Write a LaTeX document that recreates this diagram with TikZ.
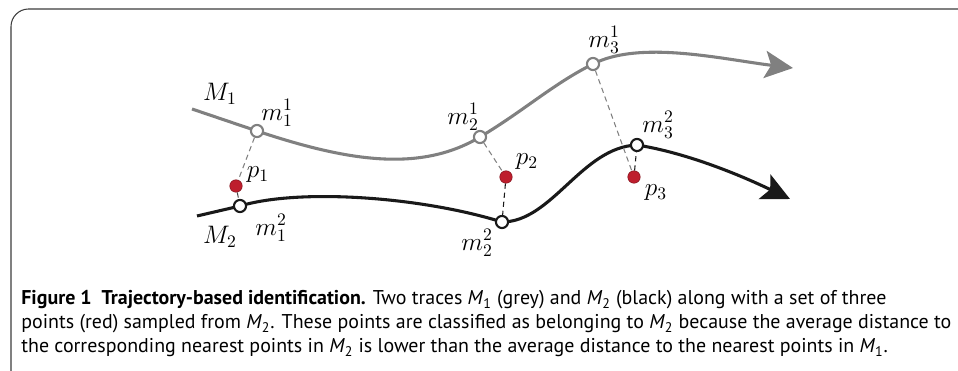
\documentclass[tikz,border=0pt]{standalone}
\usepackage{fontspec}
\usepackage{amsmath}
\usetikzlibrary{arrows.meta,backgrounds}
\newfontfamily\fuenteleyenda{PT Sans}
\definecolor{GrisTraza}{RGB}{128,128,128}
\definecolor{NegroTraza}{RGB}{25,25,25}
\definecolor{RojoPunto}{RGB}{190,30,45}
\definecolor{GrisMarco}{RGB}{60,60,60}

\tikzset{
  traza/.style={line width=1.75pt},
  muestra/.style={circle,draw,line width=1.2pt,fill=white,inner sep=0pt,minimum size=6.9pt},
  punto/.style={circle,fill=RojoPunto,draw=RojoPunto!70!black,line width=0.3pt,inner sep=0pt,minimum size=7.1pt},
  enlace/.style={dash pattern=on 3pt off 2.2pt,line width=0.6pt},
  etiqueta/.style={inner sep=0pt,font=\fontsize{14.4}{16}\selectfont},
  linea/.style={anchor=base west,inner sep=0pt,font=\fuenteleyenda\fontsize{11.35}{13.6}\selectfont},
  punta/.style={-{Stealth[length=16pt,width=15.5pt,inset=3.5pt]}}
}

\begin{document}
\begin{tikzpicture}[x=0.02cm,y=-0.02cm,>=Stealth]
  \useasboundingbox (0,0) rectangle (958,371);
  \draw[GrisMarco,line width=0.6pt,rounded corners=10] (11,400) -- (11,9) -- (990,9);

  % puntos de las trazas
  \coordinate (iniM1) at (192,109);
  \coordinate (finM1) at (793,68);
  \coordinate (iniM2) at (197,216);
  \coordinate (finM2) at (790,199);
  \node[muestra,draw=GrisTraza] (m11) at (257,131) {};
  \node[muestra,draw=GrisTraza] (m21) at (480,137) {};
  \node[muestra,draw=GrisTraza] (m31) at (593,64) {};
  \node[muestra,draw=NegroTraza] (m12) at (240,206) {};
  \node[muestra,draw=NegroTraza] (m22) at (502,222) {};
  \node[muestra,draw=NegroTraza] (m32) at (637,145) {};
  \node[punto] (p1) at (236,186) {};
  \node[punto] (p2) at (506,177) {};
  \node[punto] (p3) at (634,177) {};

  \begin{scope}[on background layer]
    \draw[traza,GrisTraza,punta] (iniM1) -- (m11.center)
      .. controls +(90,30) and +(-60,36) .. (m21.center)
      .. controls +(45,-27) and +(-40,20) .. (m31.center)
      .. controls +(47,-24) and +(-72,-9) .. (finM1);
    \draw[traza,NegroTraza,punta] (iniM2) -- (m12.center)
      .. controls +(60,-18) and +(-80,-25) .. (m22.center)
      .. controls +(50,0) and +(-55,2) .. (m32.center)
      .. controls +(50,8) and +(-50,-24) .. (finM2);
  \end{scope}

  % distancias al punto mas cercano
  \draw[enlace,GrisTraza] (m11) -- (p1);
  \draw[enlace,GrisTraza] (m21) -- (p2);
  \draw[enlace,GrisTraza] (m31) -- (p3);
  \draw[enlace,NegroTraza!80] (p1) -- (m12);
  \draw[enlace,NegroTraza] (p2) -- (m22);
  \draw[enlace,NegroTraza] (p3) -- (m32);

  \node[etiqueta] (lM1) at (220,94) {$M_1$};
  \node[etiqueta] (lM2) at (220,237) {$M_2$};
  \node[etiqueta] (lm11) at (277,113) {$m_1^1$};
  \node[etiqueta] (lm21) at (463,117) {$m_2^1$};
  \node[etiqueta] (lm31) at (604,40) {$m_3^1$};
  \node[etiqueta] (lm12) at (271,228) {$m_1^2$};
  \node[etiqueta] (lm22) at (477,243) {$m_2^2$};
  \node[etiqueta] (lm32) at (658,125) {$m_3^2$};
  \node[etiqueta] (lp1) at (258,175) {$p_1$};
  \node[etiqueta] (lp2) at (527,162) {$p_2$};
  \node[etiqueta] (lp3) at (656,193) {$p_3$};

  % pie de figura
  \node[linea] (pie1) at (21,305) {\textbf{Figure 1\enspace Trajectory-based identification.} Two traces \textit{M}\textsubscript{1} (grey) and \textit{M}\textsubscript{2} (black) along with a set of three};
  \node[linea] (pie2) at (21,329) {points (red) sampled from \textit{M}\textsubscript{2}. These points are classified as belonging to \textit{M}\textsubscript{2} because the average distance to};
  \node[linea] (pie3) at (21,353) {the corresponding nearest points in \textit{M}\textsubscript{2} is lower than the average distance to the nearest points in \textit{M}\textsubscript{1}.};
\end{tikzpicture}
\end{document}
